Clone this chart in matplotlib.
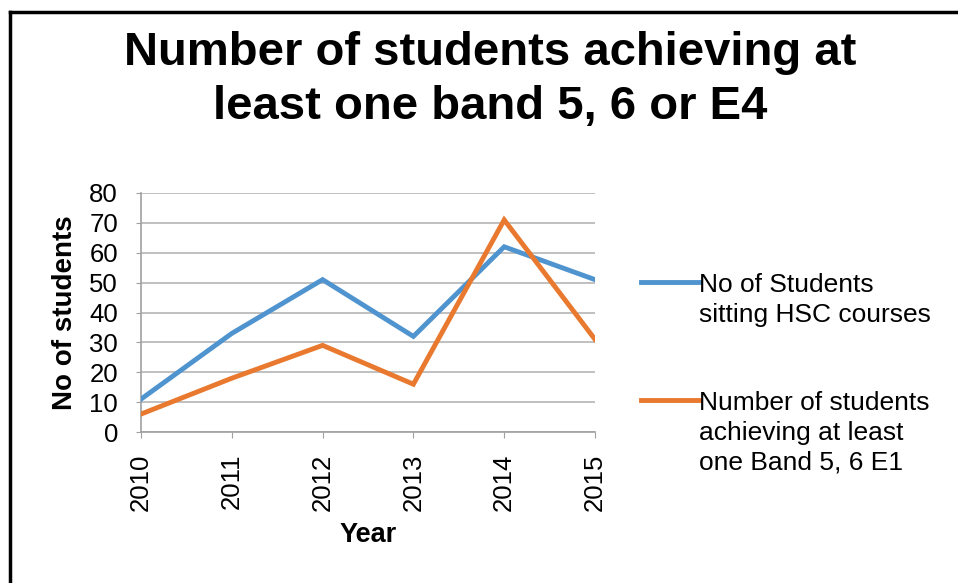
import matplotlib

matplotlib.use("Agg")
import matplotlib.pyplot as plt
from matplotlib.lines import Line2D

years = ["2010", "2011", "2012", "2013", "2014", "2015"]
sitting_hsc = [11, 33, 51, 32, 62, 51]
band_5_6 = [6, 18, 29, 16, 71, 31]
series_labels = [
    "No of Students\nsitting HSC courses",
    "Number of students\nachieving at least\none Band 5, 6 E1",
]
colors = ["#4F94CF", "#E8792F"]
title = "Number of students achieving at\nleast one band 5, 6 or E4"

plt.rcParams["font.family"] = ["Liberation Sans", "DejaVu Sans"]

W, H = 958, 583
fig = plt.figure(figsize=(W / 100, H / 100), dpi=100)
ax = fig.add_axes([141 / W, 1 - 432 / H, 454 / W, 239 / H])

x = range(len(years))
for vals, c in zip([sitting_hsc, band_5_6], colors):
    ax.plot(x, vals, color=c, lw=3.5, solid_joinstyle="miter", zorder=3)

ax.set_xlim(0, len(years) - 1)
ax.set_ylim(0, 80)
ax.set_yticks(range(0, 81, 10))
ax.set_xticks(list(x))
ax.set_xticklabels(years, rotation=90, fontsize=18.5)
ax.tick_params(axis="y", labelsize=18.5, length=3.6, color="#A0A0A0", pad=13)
ax.tick_params(axis="x", length=4.5, color="#A0A0A0", pad=11)
ax.grid(axis="y", color="#B5B5B5", lw=1.2)
for s in ["top", "right"]:
    ax.spines[s].set_visible(False)
for s in ["left", "bottom"]:
    ax.spines[s].set_color("#A0A0A0")
    ax.spines[s].set_linewidth(1.2)
ax.set_ylabel("No of students", fontsize=20, fontweight="bold")
ax.set_xlabel("Year", fontsize=19.5, fontweight="bold")
ax.yaxis.set_label_coords((78 - 141) / 454, 0.5)
ax.xaxis.set_label_coords(0.5, (432 - 522) / 239)

fig.text(490 / W, 1 - 80 / H, title, ha="center", va="center",
         fontsize=34, fontweight="bold", linespacing=1.3)

# legend drawn by hand so the line sits on the first text row
for lab, c, ly in zip(series_labels, colors, [282, 400]):
    fig.add_artist(Line2D([641 / W, 699 / W], [1 - ly / H] * 2, color=c, lw=3.5))
    fig.text(699 / W, 1 - (ly - 9) / H, lab, ha="left", va="top",
             fontsize=19, linespacing=1.3)

# outer frame (only top and left edges visible)
fig.add_artist(Line2D([10 / W, 1], [1 - 12 / H] * 2, color="black", lw=2.5))
fig.add_artist(Line2D([10 / W] * 2, [1 - 12 / H, 0], color="black", lw=2.5))

fig.savefig("out.png", dpi=100)
